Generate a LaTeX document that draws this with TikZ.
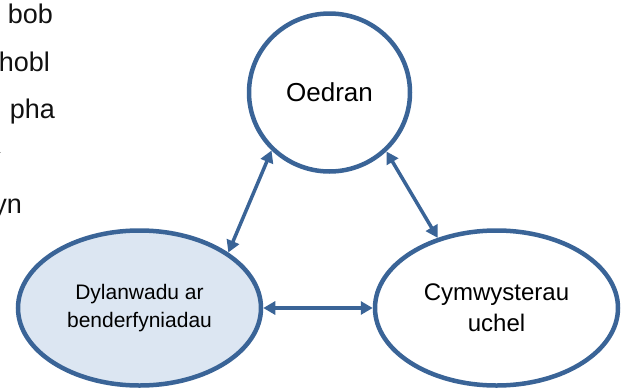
\documentclass[tikz,border=0pt]{standalone}
\usepackage{fontspec}
\setmainfont{Liberation Sans}
\usetikzlibrary{shapes.geometric,arrows.meta}
\definecolor{edgeblue}{HTML}{3A6497}
\definecolor{lightfill}{HTML}{DCE6F2}
\definecolor{bodytext}{HTML}{111111}
\begin{document}
\begin{tikzpicture}[x=1pt,y=-1pt,
  bubble/.style={ellipse, draw=edgeblue, line width=4.5pt, fill=white, align=center, inner sep=0pt},
  link/.style={edgeblue, line width=3.5pt, {Triangle[length=12pt,width=13pt]}-{Triangle[length=12pt,width=13pt]}},
  frag/.style={anchor=base east, inner sep=0pt, font=\fontsize{27}{32}\selectfont, text=bodytext}
]
\useasboundingbox (0,0) rectangle (627,389);
\clip (0,0) rectangle (627,389);
% clipped text on the left
\node[frag] (f1) at (53,23) {bob};
\node[frag] (f2) at (50,71) {hobl};
\node[frag] (f3) at (55,118) {pha};
\node[frag] (f4) at (22,213) {yn};
\fill[gray!60] (0,151.5) rectangle (1,153);
% bubbles
\node[bubble, minimum width=161pt, minimum height=158pt, font=\fontsize{26}{30}\selectfont] (oed) at (329.5,92.5) {Oedran};
\node[bubble, fill=lightfill, minimum width=243pt, minimum height=155pt, font=\fontsize{21}{28}\selectfont] (dyl) at (139.5,308) {Dylanwadu ar\\benderfyniadau};
\node[bubble, minimum width=243pt, minimum height=155pt, font=\fontsize{24}{31}\selectfont] (cym) at (496.5,308) {Cymwysterau\\uchel};
% links
\draw[link] (oed.225) -- (dyl.32);
\draw[link] (oed.314) -- (cym.130);
\draw[link] (dyl.east) -- (cym.west);
\end{tikzpicture}
\end{document}
